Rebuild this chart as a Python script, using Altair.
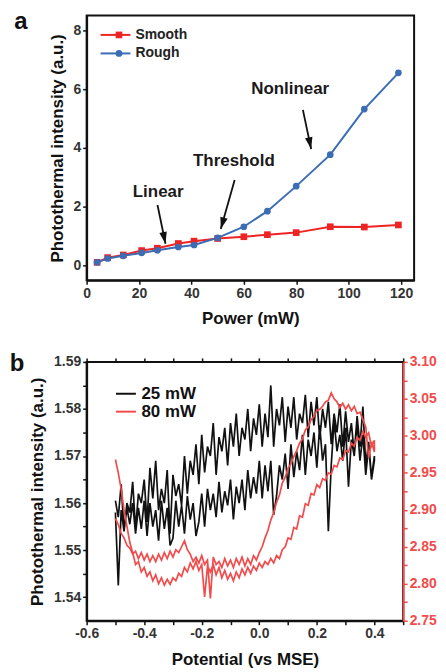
import altair as alt
import pandas as pd

FONT = "Liberation Sans"

# ---------------- panel a data ----------------
POWER = [4, 8, 14, 21, 27, 35, 41, 50, 60, 69, 80, 93, 106, 119]
SMOOTH = [0.11, 0.27, 0.36, 0.51, 0.59, 0.75, 0.83, 0.92, 0.98, 1.05, 1.12, 1.32, 1.31, 1.38]
ROUGH = [0.11, 0.24, 0.33, 0.43, 0.52, 0.63, 0.70, 0.94, 1.32, 1.85, 2.70, 3.77, 5.32, 6.55]
SERIES = ["Smooth", "Rough"]
MARKER_KEYS = ["smooth-marker", "rough-marker"]

ANNOT_TEXT = ["Linear", "Threshold", "Nonlinear"]
ANNOT_X = [27.3, 56.2, 77.7]
ANNOT_Y = [2.51, 3.56, 5.99]
ARROW_X0 = [27.05, 56.5, 82.55]
ARROW_Y0 = [2.06, 2.91, 5.29]
ARROW_X1 = [30.1, 51.2, 85.7]
ARROW_Y1 = [0.74, 1.24, 3.96]
ARROW_ANGLE = [348, 16, 348]

XTICKS_A = [0, 10, 20, 30, 40, 50, 60, 70, 80, 90, 100, 110, 120]
YTICKS_A = [0, 1, 2, 3, 4, 5, 6, 7, 8]

# ---------------- panel b data ----------------
POT = [-0.50, -0.49, -0.48, -0.47, -0.46, -0.45, -0.44, -0.43, -0.42, -0.41,
       -0.40, -0.39, -0.38, -0.37, -0.36, -0.35, -0.34, -0.33, -0.32, -0.31,
       -0.30, -0.29, -0.28, -0.27, -0.26, -0.25, -0.24, -0.23, -0.22, -0.21,
       -0.20, -0.19, -0.18, -0.17, -0.16, -0.15, -0.14, -0.13, -0.12, -0.11,
       -0.10, -0.09, -0.08, -0.07, -0.06, -0.05, -0.04, -0.03, -0.02, -0.01,
       0.00, 0.01, 0.02, 0.03, 0.04, 0.05, 0.06, 0.07, 0.08, 0.09,
       0.10, 0.11, 0.12, 0.13, 0.14, 0.15, 0.16, 0.17, 0.18, 0.19,
       0.20, 0.21, 0.22, 0.23, 0.24, 0.25, 0.26, 0.27, 0.28, 0.29,
       0.30, 0.31, 0.32, 0.33, 0.34, 0.35, 0.36, 0.37, 0.38, 0.39,
       0.40]

# 25 mW (left axis), sweep -0.5 -> 0.4 then 0.4 -> -0.5
BLACK_FWD = [1.5605, 1.5570, 1.5640, 1.5540, 1.5600, 1.5580, 1.5645, 1.5545, 1.5620, 1.5600,
             1.5650, 1.5560, 1.5675, 1.5610, 1.5690, 1.5585, 1.5630, 1.5600, 1.5670, 1.5535,
             1.5660, 1.5615, 1.5640, 1.5595, 1.5700, 1.5620, 1.5690, 1.5660, 1.5725, 1.5640,
             1.5745, 1.5665, 1.5720, 1.5700, 1.5770, 1.5660, 1.5740, 1.5710, 1.5760, 1.5680,
             1.5770, 1.5720, 1.5790, 1.5700, 1.5760, 1.5735, 1.5800, 1.5710, 1.5780, 1.5745,
             1.5810, 1.5720, 1.5790, 1.5740, 1.5850, 1.5720, 1.5800, 1.5765, 1.5825, 1.5730,
             1.5805, 1.5760, 1.5825, 1.5735, 1.5790, 1.5770, 1.5830, 1.5740, 1.5815, 1.5765,
             1.5825, 1.5735, 1.5800, 1.5760, 1.5815, 1.5725, 1.5790, 1.5750, 1.5810, 1.5720,
             1.5795, 1.5730, 1.5770, 1.5705, 1.5785, 1.5720, 1.5805, 1.5680, 1.5730, 1.5655,
             1.5700]
BLACK_REV = [1.5690, 1.5650, 1.5720, 1.5660, 1.5745, 1.5690, 1.5770, 1.5700, 1.5735, 1.5635,
             1.5760, 1.5690, 1.5745, 1.5710, 1.5775, 1.5680, 1.5540, 1.5725, 1.5690, 1.5765,
             1.5675, 1.5750, 1.5700, 1.5735, 1.5660, 1.5745, 1.5670, 1.5710, 1.5655, 1.5725,
             1.5630, 1.5705, 1.5650, 1.5680, 1.5615, 1.5575, 1.5690, 1.5625, 1.5680, 1.5610,
             1.5690, 1.5620, 1.5655, 1.5610, 1.5670, 1.5585, 1.5650, 1.5600, 1.5635, 1.5565,
             1.5650, 1.5595, 1.5625, 1.5580, 1.5645, 1.5570, 1.5620, 1.5585, 1.5630, 1.5550,
             1.5620, 1.5560, 1.5530, 1.5600, 1.5565, 1.5615, 1.5535, 1.5595, 1.5550, 1.5605,
             1.5525, 1.5510, 1.5590, 1.5545, 1.5605, 1.5520, 1.5585, 1.5550, 1.5600, 1.5530,
             1.5605, 1.5545, 1.5590, 1.5535, 1.5600, 1.5555, 1.5590, 1.5540, 1.5585, 1.5425,
             1.5580]

# 80 mW (right axis)
RED_FWD = [2.968, 2.950, 2.928, 2.900, 2.878, 2.856, 2.842, 2.826, 2.830, 2.816,
           2.822, 2.810, 2.816, 2.804, 2.812, 2.800, 2.808, 2.798, 2.806, 2.799,
           2.808, 2.804, 2.814, 2.810, 2.822, 2.816, 2.828, 2.820, 2.830, 2.818,
           2.826, 2.782, 2.824, 2.816, 2.826, 2.812, 2.822, 2.808, 2.818, 2.806,
           2.814, 2.804, 2.816, 2.808, 2.820, 2.812, 2.822, 2.814, 2.824, 2.818,
           2.828, 2.822, 2.830, 2.826, 2.834, 2.828, 2.838, 2.834, 2.846, 2.850,
           2.862, 2.860, 2.876, 2.874, 2.892, 2.890, 2.908, 2.906, 2.922, 2.920,
           2.934, 2.930, 2.942, 2.940, 2.950, 2.948, 2.960, 2.958, 2.970, 2.968,
           2.980, 2.978, 2.990, 2.986, 2.998, 2.994, 3.006, 2.998, 3.004, 2.986,
           2.994]
RED_REV = [2.978, 2.992, 2.970, 3.012, 3.022, 3.032, 3.030, 3.040, 3.034, 3.042,
           3.036, 3.044, 3.038, 3.046, 3.050, 3.058, 3.048, 3.046, 3.040, 3.036,
           3.034, 3.026, 3.022, 3.012, 3.008, 2.996, 2.990, 2.980, 2.972, 2.962,
           2.956, 2.944, 2.936, 2.920, 2.910, 2.896, 2.886, 2.872, 2.862, 2.850,
           2.842, 2.832, 2.838, 2.826, 2.834, 2.824, 2.836, 2.826, 2.834, 2.822,
           2.832, 2.824, 2.834, 2.822, 2.830, 2.826, 2.836, 2.780, 2.832, 2.826,
           2.838, 2.828, 2.836, 2.830, 2.840, 2.846, 2.858, 2.850, 2.842, 2.846,
           2.836, 2.844, 2.834, 2.842, 2.832, 2.840, 2.830, 2.838, 2.830, 2.840,
           2.832, 2.842, 2.834, 2.844, 2.840, 2.848, 2.852, 2.862, 2.868, 2.880,
           2.888]
TRACES = ["25 mW", "80 mW"]

XTICKS_B = [-0.6, -0.5, -0.4, -0.3, -0.2, -0.1, 0.0, 0.1, 0.2, 0.3, 0.4, 0.5]
LTICKS_B = [1.54, 1.545, 1.55, 1.555, 1.56, 1.565, 1.57, 1.575, 1.58, 1.585, 1.59]
RTICKS_B = [2.75, 2.775, 2.80, 2.825, 2.85, 2.875, 2.90, 2.925, 2.95, 2.975,
            3.00, 3.025, 3.05, 3.075, 3.10]

RED_A = "#ee2424"
BLUE_A = "#3a6db4"
RED_B = "#f24b4b"
INK = "#111111"
LABEL = "#333333"
WIDE_STROKE = "M-2.5,0H2.5"   # legend line symbol, 5x wider than its layout box

# ---------------- tables ----------------
rows = []
for p, v in zip(POWER, SMOOTH):
    rows.append({"power": p, "value": v, "series": SERIES[0], "marker": MARKER_KEYS[0]})
for p, v in zip(POWER, ROUGH):
    rows.append({"power": p, "value": v, "series": SERIES[1], "marker": MARKER_KEYS[1]})
df_a = pd.DataFrame(rows)

df_ann = pd.DataFrame({"label": ANNOT_TEXT, "x": ANNOT_X, "y": ANNOT_Y})
df_arr = pd.DataFrame({"x0": ARROW_X0, "y0": ARROW_Y0, "x1": ARROW_X1,
                       "y1": ARROW_Y1, "ang": ARROW_ANGLE})

df_black = pd.DataFrame({"pot": POT + POT[::-1], "val": BLACK_FWD + BLACK_REV})
df_black["trace"] = TRACES[0]
df_black["i"] = range(len(df_black))
df_red = pd.DataFrame({"pot": POT + POT[::-1], "val": RED_FWD + RED_REV})
df_red["trace"] = TRACES[1]
df_red["i"] = range(len(df_red))

# ---------------- panel a ----------------
xs_a = alt.Scale(domain=[0, 125], nice=False, zero=False)
ys_a = alt.Scale(domain=[-0.5, 8.5], nice=False, zero=False)
x_a = alt.X("power:Q", scale=xs_a, axis=alt.Axis(
    title="Power (mW)", values=XTICKS_A, labelOverlap=False, labelFlush=False,
    labelExpr="datum.value % 20 == 0 ? datum.label : ''", titlePadding=10))
y_a = alt.Y("value:Q", scale=ys_a, axis=alt.Axis(
    title="Photothermal intensity (a.u.)", values=YTICKS_A, labelOverlap=False,
    labelExpr="datum.value % 2 == 0 ? datum.label : ''", titlePadding=6))

line_legend = alt.Legend(orient="none", legendX=22, legendY=12.5, title=None,
                         symbolType=WIDE_STROKE, symbolSize=144, symbolStrokeWidth=2,
                         labelFont=FONT, labelFontSize=14, labelFontWeight="bold",
                         labelColor="#222222", labelOffset=13, rowPadding=4.6, padding=0)
point_legend = alt.Legend(orient="none", legendX=25.5, legendY=12.5, title=None,
                          symbolSize=45, symbolStrokeWidth=0, labelExpr="''",
                          labelFont=FONT, labelFontSize=14, labelFontWeight="bold",
                          labelOffset=4, rowPadding=4.6, padding=0)

lines_a = alt.Chart(df_a).mark_line(strokeWidth=2).encode(
    x=x_a, y=y_a,
    stroke=alt.Stroke("series:N", scale=alt.Scale(domain=SERIES, range=[RED_A, BLUE_A]),
                      legend=line_legend),
)
points_a = alt.Chart(df_a).mark_point(filled=True, size=45, opacity=1).encode(
    x="power:Q", y="value:Q",
    fill=alt.Fill("marker:N", scale=alt.Scale(domain=MARKER_KEYS, range=[RED_A, BLUE_A]),
                  legend=point_legend),
    shape=alt.Shape("marker:N", scale=alt.Scale(domain=MARKER_KEYS, range=["square", "circle"]),
                    legend=point_legend),
)
ann_text = alt.Chart(df_ann).mark_text(font=FONT, fontSize=17, fontWeight="bold",
                                       color="#1a1a1a").encode(
    x="x:Q", y="y:Q", text="label:N")
arrows = alt.Chart(df_arr).mark_rule(strokeWidth=1.8, color=INK).encode(
    x="x0:Q", y="y0:Q", x2="x1:Q", y2="y1:Q")
heads = alt.Chart(df_arr).mark_point(shape="M0,0L-0.32,-1L0.32,-1Z", filled=True,
                                     size=560, opacity=1, color=INK).encode(
    x="x1:Q", y="y1:Q", angle=alt.Angle("ang:Q", scale=None))
label_a = alt.Chart(pd.DataFrame({"t": ["a"]})).mark_text(
    font=FONT, fontSize=24, fontWeight="bold", color=INK, align="center",
    baseline="alphabetic").encode(text="t:N", x=alt.value(-66), y=alt.value(14))

panel_a = alt.layer(lines_a, points_a, arrows, heads, ann_text, label_a).properties(
    width=329, height=266)

# ---------------- panel b ----------------
xs_b = alt.Scale(domain=[-0.6, 0.5], nice=False, zero=False)
minus_fix = "replace(format(datum.value, '.1f'), '\u2212', '-')"
trace_legend = alt.Legend(orient="none", legendX=31, legendY=23.5, title=None,
                          symbolType=WIDE_STROKE, symbolSize=64, symbolStrokeWidth=2,
                          labelFont=FONT, labelFontSize=17, labelFontWeight="bold",
                          labelColor=INK, labelOffset=7, rowPadding=0, padding=0)
trace_scale = alt.Scale(domain=TRACES, range=[INK, RED_B])

black_b = alt.Chart(df_black).mark_line(strokeWidth=1.7).encode(
    x=alt.X("pot:Q", scale=xs_b, axis=alt.Axis(
        title="Potential (vs MSE)", values=XTICKS_B, labelOverlap=False, labelFlush=False,
        labelExpr="round(datum.value * 10) % 2 == 0 ? " + minus_fix + " : ''",
        titlePadding=11)),
    y=alt.Y("val:Q", scale=alt.Scale(domain=[1.535, 1.59], nice=False, zero=False),
            axis=alt.Axis(title="Photothermal intensity (a.u.)", values=LTICKS_B,
                          labelOverlap=False,
                          labelExpr="round(datum.value * 1000) % 10 == 0 ? format(datum.value, '.2f') : ''",
                          titlePadding=7)),
    color=alt.Color("trace:N", scale=trace_scale, legend=trace_legend),
    order=alt.Order("i:Q"),
)
red_b = alt.Chart(df_red).mark_line(strokeWidth=1.7).encode(
    x=alt.X("pot:Q", scale=xs_b, axis=alt.Axis(
        orient="top", title=None, labels=False, values=XTICKS_B, domain=False)),
    y=alt.Y("val:Q", scale=alt.Scale(domain=[2.75, 3.10], nice=False, zero=False),
            axis=alt.Axis(orient="right", title=None, values=RTICKS_B, labelOverlap=False,
                          labelExpr="round(datum.value * 1000) % 50 == 0 ? format(datum.value, '.2f') : ''",
                          labelColor=RED_B, tickColor=RED_B, domainColor=RED_B)),
    color=alt.Color("trace:N", scale=trace_scale, legend=trace_legend),
    order=alt.Order("i:Q"),
)
label_b = alt.Chart(pd.DataFrame({"t": ["b"]})).mark_text(
    font=FONT, fontSize=24, fontWeight="bold", color=INK, align="center",
    baseline="alphabetic").encode(text="t:N", x=alt.value(-70), y=alt.value(9))

panel_b = alt.layer(black_b, red_b, label_b).resolve_scale(
    y="independent").resolve_axis(x="independent").properties(width=318, height=260)

chart = alt.vconcat(panel_a, panel_b, spacing=24).resolve_scale(
    stroke="independent", fill="independent", shape="independent", color="independent"
).resolve_legend(
    stroke="independent", fill="independent", shape="independent", color="independent"
).properties(
    padding={"left": 0, "top": 0, "right": 0, "bottom": 0}
).configure_view(
    stroke=INK, strokeWidth=2
).configure_axis(
    grid=False, domainColor=INK, domainWidth=2, tickColor=INK, tickWidth=1.5,
    tickSize=4, labelFont=FONT, labelFontSize=14, labelFontWeight="bold",
    labelColor=LABEL, labelPadding=2, titleFont=FONT, titleFontSize=17,
    titleFontWeight="bold", titleColor=INK
)

chart.save("out.html", embed_options={"renderer": "svg", "actions": False})
